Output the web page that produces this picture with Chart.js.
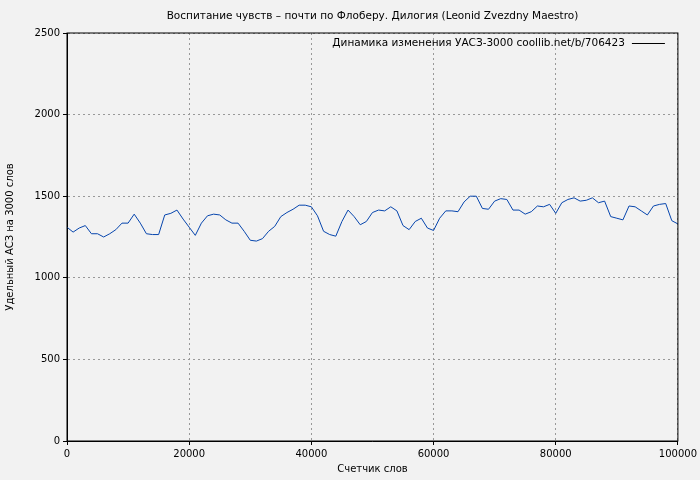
<!DOCTYPE html>
<html><head><meta charset="utf-8">
<script src="https://cdn.jsdelivr.net/npm/chart.js@4"></script>
<style>body{margin:0;background:#f2f2f2}#w{width:700px;height:480px}</style>
</head><body><div id="w"><canvas id="c"></canvas></div>
<script>
const xs = [];
for (let i = 0; i <= 100; i++) xs.push(i * 1000);
const values = [1310,1280,1305,1320,1270,1270,1250,1270,1295,1335,1335,1390,1335,1270,1265,1265,1385,1395,1415,1360,
1310,1260,1335,1380,1390,1385,1355,1335,1335,1285,1230,1225,1240,1285,1315,1375,1400,1420,1445,1445,
1435,1380,1285,1265,1255,1345,1415,1375,1325,1345,1400,1415,1410,1435,1410,1320,1295,1345,1365,1305,
1290,1365,1410,1410,1405,1465,1500,1500,1425,1420,1470,1485,1480,1415,1415,1390,1405,1440,1435,1450,
1395,1460,1480,1490,1470,1475,1490,1460,1470,1375,1365,1355,1440,1435,1410,1385,1440,1450,1455,1350,1330];
const titleText = 'Воспитание чувств – почти по Флоберу. Дилогия (Leonid Zvezdny Maestro)';
const legendText = 'Динамика изменения УАСЗ-3000 coollib.net/b/706423';
const font = { family: 'DejaVu Sans', size: 10 };

// title centred over the plot area, legend with its line sample after the text
const textPlugin = {
  id: 'texts',
  afterDraw(chart) {
    const ctx = chart.ctx, a = chart.chartArea;
    ctx.save();
    ctx.font = '10.5px "DejaVu Sans"';
    ctx.fillStyle = '#000';
    ctx.textBaseline = 'middle';
    ctx.textAlign = 'center';
    ctx.fillText(titleText, (a.left + a.right) / 2, 16);
    ctx.textAlign = 'right';
    const y = a.top + 10;
    ctx.fillText(legendText, a.right - 53, y);
    ctx.strokeStyle = '#000';
    ctx.lineWidth = 1;
    ctx.beginPath(); ctx.moveTo(a.right - 46, y + 0.5); ctx.lineTo(a.right - 13, y + 0.5); ctx.stroke();
    ctx.restore();
  }
};

new Chart(document.getElementById('c'), {
  type: 'line',
  data: { datasets: [{ data: xs.map((x, i) => ({x, y: values[i]})), borderColor: '#0645ad', borderWidth: 1, pointRadius: 0, tension: 0 }] },
  options: {
    animation: false, responsive: true, maintainAspectRatio: false,
    layout: { padding: { left: 4, right: 21, top: 33, bottom: 5 } },
    plugins: { legend: { display: false }, title: { display: false } },
    scales: {
      x: { type: 'linear', min: 0, max: 100000,
        ticks: { stepSize: 20000, color: '#000', font: font, maxRotation: 0, callback: v => String(v) },
        grid: { color: '#999', tickColor: '#000', tickLength: 4 },
        border: { color: '#000', width: 1, dash: [2, 3] },
        title: { display: true, text: 'Счетчик слов', color: '#000', font: font, padding: 0 } },
      y: { min: 0, max: 2500,
        afterFit: s => { s.width = 63; },
        ticks: { stepSize: 500, color: '#000', font: font, callback: v => String(v) },
        grid: { color: '#999', tickColor: '#000', tickLength: 4 },
        border: { color: '#000', width: 1, dash: [2, 3] },
        title: { display: true, text: 'Удельный АСЗ на 3000 слов', color: '#000', font: font, padding: 0 } }
    }
  },
  plugins: [textPlugin, {
    id: 'frame',
    afterDraw(chart) {
      const ctx = chart.ctx, a = chart.chartArea;
      ctx.save(); ctx.strokeStyle = '#000'; ctx.lineWidth = 1;
      ctx.strokeRect(a.left, a.top, a.right - a.left, a.bottom - a.top);
      ctx.restore();
    }
  }]
});
</script></body></html>
